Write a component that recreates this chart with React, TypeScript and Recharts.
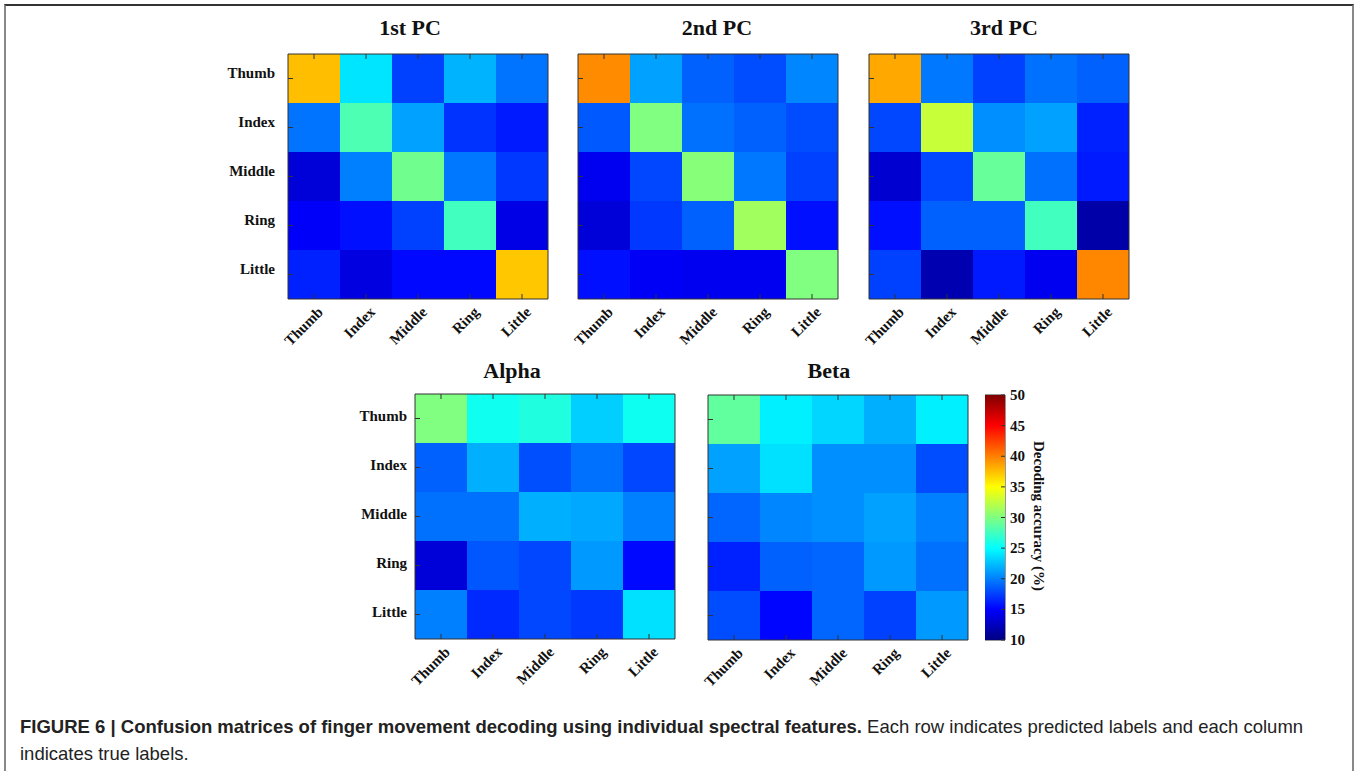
import React from 'react';
import { BarChart, Bar, XAxis, YAxis, Cell, ReferenceArea } from 'recharts';

// rows = predicted label (top to bottom), columns = true label
const FINGERS = ['Thumb', 'Index', 'Middle', 'Ring', 'Little'];
const CBAR_TICKS = [10, 15, 20, 25, 30, 35, 40, 45, 50];
const ROW_TICKS = [0.5, 1.5, 2.5, 3.5, 4.5];

const PC1 = [
  [37.5, 24.0, 17.5, 22.0, 19.5],
  [19.5, 28.0, 21.3, 17.0, 16.0],
  [13.5, 20.0, 29.4, 19.7, 17.2],
  [14.8, 15.6, 17.5, 27.5, 14.0],
  [16.3, 13.8, 15.3, 15.3, 37.2],
];
const PC2 = [
  [39.5, 21.3, 18.8, 18.0, 20.3],
  [18.5, 30.0, 19.4, 18.8, 18.0],
  [14.4, 17.8, 30.3, 19.7, 17.5],
  [13.5, 17.2, 18.8, 31.3, 15.6],
  [15.6, 14.7, 14.4, 14.4, 30.0],
];
const PC3 = [
  [38.4, 19.7, 17.5, 19.4, 18.8],
  [17.8, 32.8, 20.6, 21.3, 16.3],
  [13.2, 17.8, 29.0, 19.4, 16.0],
  [15.6, 18.8, 18.8, 27.5, 11.6],
  [17.5, 11.9, 16.0, 14.4, 39.7],
];
const ALPHA = [
  [30.0, 25.6, 26.2, 23.1, 25.5],
  [18.8, 21.9, 18.1, 19.4, 17.8],
  [19.4, 19.4, 21.9, 21.6, 20.0],
  [13.5, 18.4, 17.8, 21.0, 15.3],
  [20.0, 16.6, 17.8, 17.2, 23.8],
];
const BETA = [
  [28.8, 24.4, 23.4, 21.9, 24.4],
  [21.3, 23.8, 20.6, 20.6, 18.0],
  [19.0, 20.3, 20.6, 21.3, 20.0],
  [16.3, 18.8, 19.0, 21.0, 19.4],
  [18.0, 15.2, 19.0, 17.5, 21.0],
];

const SERIF = '"Liberation Serif", "Times New Roman", serif';
const SANS = '"Liberation Sans", Arial, sans-serif';
const AXIS = '#333';
const TICK = 5;

const clamp = (x: number) => Math.max(0, Math.min(1, x));
const jet = (v: number) => {
  const t = (v - 10) / 40;
  const r = clamp(1.5 - Math.abs(4 * t - 3));
  const g = clamp(1.5 - Math.abs(4 * t - 2));
  const b = clamp(1.5 - Math.abs(4 * t - 1));
  const h = (x: number) => Math.round(x * 255).toString(16).padStart(2, '0');
  return `#${h(r)}${h(g)}${h(b)}`;
};

// bottom axis: label + inward tick (ty sits on the plot's bottom edge)
const XTick = ({ x, y, payload }: any) => (
  <g>
    <line x1={x} y1={y} x2={x} y2={y - TICK} stroke={AXIS} />
    <g transform={`translate(${x + 10},${y + 14})`}>
      <text textAnchor="end" transform="rotate(-45)" fontFamily={SERIF} fontWeight="bold" fontSize={15} fill="#111">
        {payload.value}
      </text>
    </g>
  </g>
);

const TopTick = ({ x, y }: any) => <line x1={x} y1={y} x2={x} y2={y - TICK} stroke={AXIS} />;
const RightTick = ({ x, y }: any) => <line x1={x} y1={y} x2={x + TICK} y2={y} stroke={AXIS} />;

const makeYTick = (margin: number, dy: number, label: boolean) => ({ x, y, payload }: any) => {
  const edge = x + margin - TICK;
  return (
    <g>
      <line x1={edge} y1={y} x2={edge + TICK} y2={y} stroke={AXIS} />
      {label && (
        <text x={x} y={y + dy} textAnchor="end" dominantBaseline="central" fontFamily={SERIF} fontWeight="bold" fontSize={15} fill="#111">
          {FINGERS[4 - Math.floor(payload.value)]}
        </text>
      )}
    </g>
  );
};

const CbarTick = ({ x, y, payload }: any) => (
  <g>
    <line x1={x - 9} y1={y} x2={x - 5} y2={y} stroke={AXIS} />
    <text x={x} y={y} textAnchor="start" dominantBaseline="central" fontFamily={SERIF} fontWeight="bold" fontSize={15} fill="#111">
      {payload.value}
    </text>
  </g>
);

interface MatrixProps {
  title: string;
  values: number[][];
  left: number;
  top: number;
  titleX: number;
  titleY: number;
  labelGap?: number;
  labelDy?: number;
}

const W = 260;
const H = 245;

const Matrix: React.FC<MatrixProps> = ({ title, values, left, top, titleX, titleY, labelGap, labelDy = -4 }) => {
  const hasLabels = labelGap !== undefined;
  const yw = hasLabels ? 100 : 10;
  const yMargin = (labelGap ?? 0) + TICK;
  const data = FINGERS.map((name) => ({ name, r0: 1, r1: 1, r2: 1, r3: 1, r4: 1 }));
  return (
    <>
      <div
        style={{
          position: 'absolute',
          left: titleX - 100,
          top: titleY - 14,
          width: 200,
          textAlign: 'center',
          fontFamily: SERIF,
          fontWeight: 'bold',
          fontSize: 22,
          lineHeight: '28px',
          color: '#111',
        }}
      >
        {title}
      </div>
      <div style={{ position: 'absolute', left: left - yw, top: top - 1 }}>
        <BarChart
          width={yw + W + 1}
          height={1 + H + 80}
          data={data}
          margin={{ top: 0, right: 0, left: 0, bottom: 0 }}
          barCategoryGap={0}
          barGap={0}
        >
          {[4, 3, 2, 1, 0].map((r) => (
            <Bar key={r} dataKey={`r${r}`} stackId="s" xAxisId="b" yAxisId="l" isAnimationActive={false}>
              {FINGERS.map((f, c) => (
                <Cell key={f} fill={jet(values[r][c])} />
              ))}
            </Bar>
          ))}
          <XAxis xAxisId="b" dataKey="name" height={80} tickSize={-TICK} tickMargin={TICK} tickLine={false} tick={<XTick />} stroke={AXIS} interval={0} />
          <XAxis xAxisId="t" dataKey="name" orientation="top" height={1} tickSize={-TICK} tickMargin={0} tickLine={false} tick={<TopTick />} stroke={AXIS} interval={0} />
          <YAxis
            yAxisId="l"
            type="number"
            domain={[0, 5]}
            ticks={ROW_TICKS}
            width={yw}
            tickSize={-TICK}
            tickMargin={yMargin}
            tickLine={false}
            tick={makeYTick(yMargin, labelDy, hasLabels)}
            stroke={AXIS}
            interval={0}
          />
          <YAxis
            yAxisId="r"
            type="number"
            orientation="right"
            domain={[0, 5]}
            ticks={ROW_TICKS}
            width={1}
            tickSize={-TICK}
            tickMargin={0}
            tickLine={false}
            tick={<RightTick />}
            stroke={AXIS}
            interval={0}
          />
        </BarChart>
      </div>
    </>
  );
};

const CB_PAD = 12;

const Colorbar: React.FC<{ left: number; top: number }> = ({ left, top }) => (
  <div style={{ position: 'absolute', left, top: top - CB_PAD }}>
    <BarChart
      width={20 + 50}
      height={H + 2 * CB_PAD}
      data={[{ name: 'cb', range: [10, 50] }]}
      margin={{ top: CB_PAD, right: 0, left: 0, bottom: CB_PAD }}
      barCategoryGap={0}
    >
      <XAxis dataKey="name" hide />
      <Bar dataKey="range" fill="url(#jetGrad)" isAnimationActive={false} />
      <YAxis
        orientation="right"
        type="number"
        domain={[10, 50]}
        ticks={CBAR_TICKS}
        width={50}
        tickSize={-4}
        tickMargin={9}
        tickLine={false}
        tick={<CbarTick />}
        stroke={AXIS}
        axisLine={false}
        interval={0}
      />
      <ReferenceArea y1={10} y2={50} fill="none" stroke={AXIS} strokeWidth={1} ifOverflow="visible" />
    </BarChart>
  </div>
);

const GRAD_STOPS = [0, 0.125, 0.25, 0.375, 0.5, 0.625, 0.75, 0.875, 1];

export default function App() {
  return (
    <div style={{ position: 'absolute', left: 0, top: 0, width: 1359, height: 771, background: '#fff', overflow: 'hidden' }}>
      <svg width={0} height={0} style={{ position: 'absolute' }}>
        <defs>
          <linearGradient id="jetGrad" x1="0" y1="1" x2="0" y2="0">
            {GRAD_STOPS.map((s) => (
              <stop key={s} offset={s} stopColor={jet(10 + s * 40)} />
            ))}
          </linearGradient>
        </defs>
      </svg>
      <div
        style={{
          position: 'absolute',
          left: 4,
          top: 4,
          width: 1346,
          height: 770,
          borderTop: '2px solid #333',
          borderLeft: '2px solid #888',
          borderRight: '2px solid #888',
        }}
      />
      <Matrix title="1st PC" values={PC1} left={288} top={54} titleX={410} titleY={28} labelGap={13} labelDy={-6} />
      <Matrix title="2nd PC" values={PC2} left={578} top={54} titleX={717} titleY={28} />
      <Matrix title="3rd PC" values={PC3} left={869} top={54} titleX={1004} titleY={28} />
      <Matrix title="Alpha" values={ALPHA} left={415} top={394} titleX={512} titleY={371} labelGap={8} labelDy={-3} />
      <Matrix title="Beta" values={BETA} left={708} top={395} titleX={829} titleY={371} />
      <Colorbar left={985} top={395} />
      <div
        style={{
          position: 'absolute',
          left: 1039 - 100,
          top: 516 - 10,
          width: 200,
          height: 20,
          lineHeight: '20px',
          textAlign: 'center',
          transform: 'rotate(90deg)',
          fontFamily: SERIF,
          fontWeight: 'bold',
          fontSize: 15,
          color: '#111',
        }}
      >
        Decoding accuracy (%)
      </div>
      <div
        style={{
          position: 'absolute',
          left: 20,
          top: 713,
          width: 1320,
          fontFamily: SANS,
          fontSize: 18.5,
          lineHeight: '27px',
          color: '#222',
        }}
      >
        <b>FIGURE 6 | Confusion matrices of finger movement decoding using individual spectral features.</b> Each row indicates
        predicted labels and each column
        <br />
        indicates true labels.
      </div>
    </div>
  );
}
